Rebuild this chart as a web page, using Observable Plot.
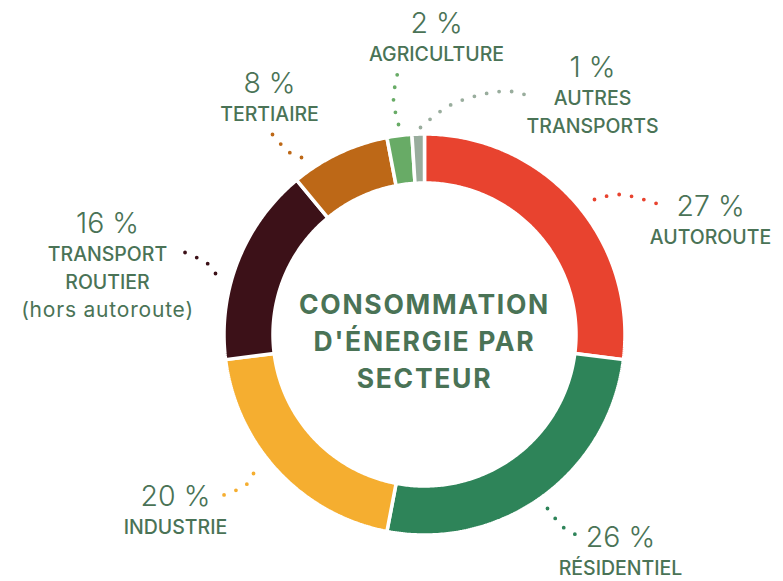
<!DOCTYPE html>
<html><head><meta charset="utf-8">
<script src="https://cdn.jsdelivr.net/npm/d3@7"></script>
<script src="https://cdn.jsdelivr.net/npm/@observablehq/plot@0.6"></script>
<style>body{margin:0;background:#fff}</style>
</head><body><div id="chart"></div>
<script>
// ---- data ----
const sectors = ["AUTOROUTE", "RÉSIDENTIEL", "INDUSTRIE", "TRANSPORT ROUTIER", "TERTIAIRE", "AGRICULTURE", "AUTRES TRANSPORTS"];
const shares = [27, 26, 20, 16, 8, 2, 1];
const sectorColors = ["#e8432f", "#2e8459", "#f5ae30", "#3c1118", "#bd6817", "#68ab66", "#99ad9d"];
const nameLines = [["AUTOROUTE"], ["RÉSIDENTIEL"], ["INDUSTRIE"], ["TRANSPORT", "ROUTIER", "(hors autoroute)"], ["TERTIAIRE"], ["AGRICULTURE"], ["AUTRES", "TRANSPORTS"]];
const titleLines = ["CONSOMMATION", "D'ÉNERGIE PAR", "SECTEUR"];

// ---- layout ----
const W = 783, H = 581, cx = 424, cy = 334, R = 200.5, r0 = 151.5;
const labelAnchors = [[710, 215], [620, 546], [175, 505], [107, 232], [269, 92], [436, 32], [592, 76]];
const leaderPaths = [
  [[594, 199], [619, 194], [656, 203]],
  [[547, 508], [563, 527], [575, 534]],
  [[253, 473], [246, 484], [222, 495]],
  [[215, 273], [207, 263], [182, 251]],
  [[301, 157], [289, 152], [272, 134]],
  [[398, 124], [393, 99], [397, 73]],
  [[420, 127], [449, 105], [486, 93], [511, 91], [533, 97]]
];
const textColor = "#4a7356";
const font = "Inter";

// ---- build slices ----
const arcs = d3.pie().sort(null).value(d => d)(shares);
const slicePts = [];
arcs.forEach((a, i) => {
  const n = Math.max(4, Math.ceil((a.endAngle - a.startAngle) / 0.01));
  const outer = d3.range(n + 1).map(k => a.startAngle + (a.endAngle - a.startAngle) * k / n);
  const pts = outer.map(t => [cx + R * Math.sin(t), cy - R * Math.cos(t)])
    .concat(outer.slice().reverse().map(t => [cx + r0 * Math.sin(t), cy - r0 * Math.cos(t)]));
  pts.push(pts[0]);
  pts.forEach(([x, y]) => slicePts.push({sector: sectors[i], x, y}));
});

const leaderRows = [];
leaderPaths.forEach((p, i) => p.forEach(([x, y]) => leaderRows.push({sector: sectors[i], x, y})));

const pctRows = shares.map((s, i) => ({x: labelAnchors[i][0], y: labelAnchors[i][1], text: `${s} %`}));
const nameRows = [], lowerRows = [];
nameLines.forEach((lines, i) => lines.forEach((t, k) => {
  const row = {x: labelAnchors[i][0], y: labelAnchors[i][1] + 28.3 * (k + 1), text: t};
  (t === t.toUpperCase() ? nameRows : lowerRows).push(row);
}));
const titleRows = titleLines.map((t, k) => ({x: cx, y: 313 + 37 * k, text: t}));

const chart = Plot.plot({
  width: W, height: H,
  margin: 0,
  x: {domain: [0, W], range: [0, W], axis: null},
  y: {domain: [0, H], range: [0, H], axis: null},
  color: {domain: sectors, range: sectorColors},
  style: {fontFamily: font, background: "#fff"},
  marks: [
    Plot.line(slicePts, {x: "x", y: "y", z: "sector", fill: "sector", stroke: "#fff", strokeWidth: 3.5, strokeLinejoin: "miter"}),
    Plot.line(leaderRows, {x: "x", y: "y", z: "sector", stroke: "sector", curve: "catmull-rom", strokeWidth: 3.8, strokeDasharray: "0 12.6", strokeLinecap: "round"}),
    Plot.text(pctRows, {x: "x", y: "y", text: "text", fontSize: 28.5, fontWeight: 300, fill: textColor, lineAnchor: "bottom", fontFamily: font}),
    Plot.text(nameRows, {x: "x", y: "y", text: "text", fontSize: 19.5, fontWeight: 500, fill: textColor, lineAnchor: "bottom", fontFamily: font}),
    Plot.text(lowerRows, {x: "x", y: "y", text: "text", fontSize: 21, fontWeight: 400, fill: textColor, lineAnchor: "bottom", fontFamily: font}),
    Plot.text(titleRows, {x: "x", y: "y", text: "text", fontSize: 26.5, fontWeight: 700, fill: textColor, lineAnchor: "bottom", fontFamily: font})
  ]
});
const textGroups = chart.querySelectorAll('g[aria-label="text"]');
textGroups[2].style.letterSpacing = "0.8px";
textGroups[3].style.letterSpacing = "1.7px";
document.getElementById("chart").appendChild(chart);
</script>
</body></html>
